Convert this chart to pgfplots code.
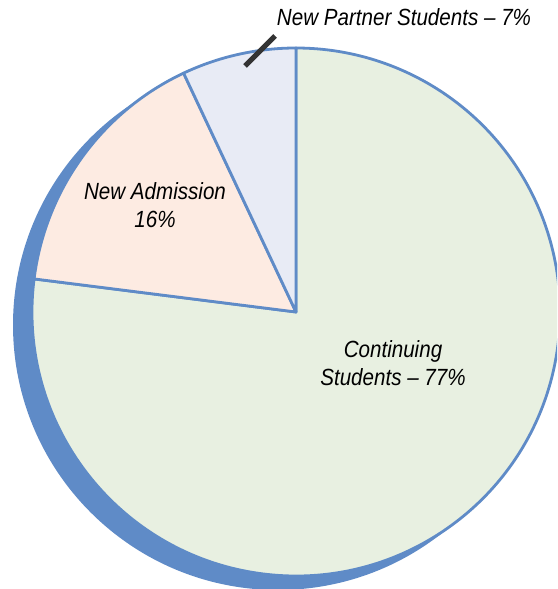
\documentclass[border=0pt]{standalone}
\usepackage{pgfplots}
\pgfplotsset{compat=1.18}
\usepackage{fontspec}
\setmainfont{Liberation Sans}
\newfontfamily\lab[FakeStretch=0.88]{Liberation Sans}
\definecolor{edgeblue}{RGB}{95,139,199}
\definecolor{contfill}{RGB}{232,240,225}
\definecolor{admfill}{RGB}{253,235,226}
\definecolor{partfill}{RGB}{232,235,245}
\definecolor{leader}{RGB}{51,51,51}
% percentages
\def\pContinuing{77}
\def\pAdmission{16}
\def\pPartner{7}
\begin{document}
\begin{tikzpicture}
\begin{axis}[x=1pt,y=1pt,xmin=0,xmax=557,ymin=0,ymax=589,
  hide axis,scale only axis,clip=true]
\pgfmathsetmacro{\aA}{90}
\pgfmathsetmacro{\aB}{90+\pPartner*3.6}
\pgfmathsetmacro{\aC}{\aB+\pAdmission*3.6}
\pgfmathsetmacro{\aD}{\aC+\pContinuing*3.6}
\path (axis cs:0,0) rectangle (axis cs:557,589);
% shadow
\fill[edgeblue] (axis cs:278,264) circle[radius=265pt];
% slices
\filldraw[fill=contfill,draw=edgeblue,line width=2.8pt,line join=round]
  (axis cs:296,277) -- ++(\aC:264pt) arc[start angle=\aC,end angle=\aD,radius=264pt] -- cycle;
\filldraw[fill=admfill,draw=edgeblue,line width=2.8pt,line join=round]
  (axis cs:296,277) -- ++(\aB:264pt) arc[start angle=\aB,end angle=\aC,radius=264pt] -- cycle;
\filldraw[fill=partfill,draw=edgeblue,line width=2.8pt,line join=round]
  (axis cs:296,277) -- ++(\aA:264pt) arc[start angle=\aA,end angle=\aB,radius=264pt] -- cycle;
% leader
\draw[leader,line width=5pt] (axis cs:245,523) -- (axis cs:275,553);
% labels
\node[font=\lab\itshape\fontsize{23.4}{27.5}\selectfont,anchor=base] at (axis cs:404,563) {New Partner Students – \pPartner\%};
\node[font=\lab\itshape\fontsize{23.4}{27.5}\selectfont,align=center] at (axis cs:155,384) {New Admission\\\pAdmission\%};
\node[font=\lab\itshape\fontsize{23.4}{27.5}\selectfont,align=center] at (axis cs:393,226) {Continuing\\Students – \pContinuing\%};
\end{axis}
\end{tikzpicture}
\end{document}
